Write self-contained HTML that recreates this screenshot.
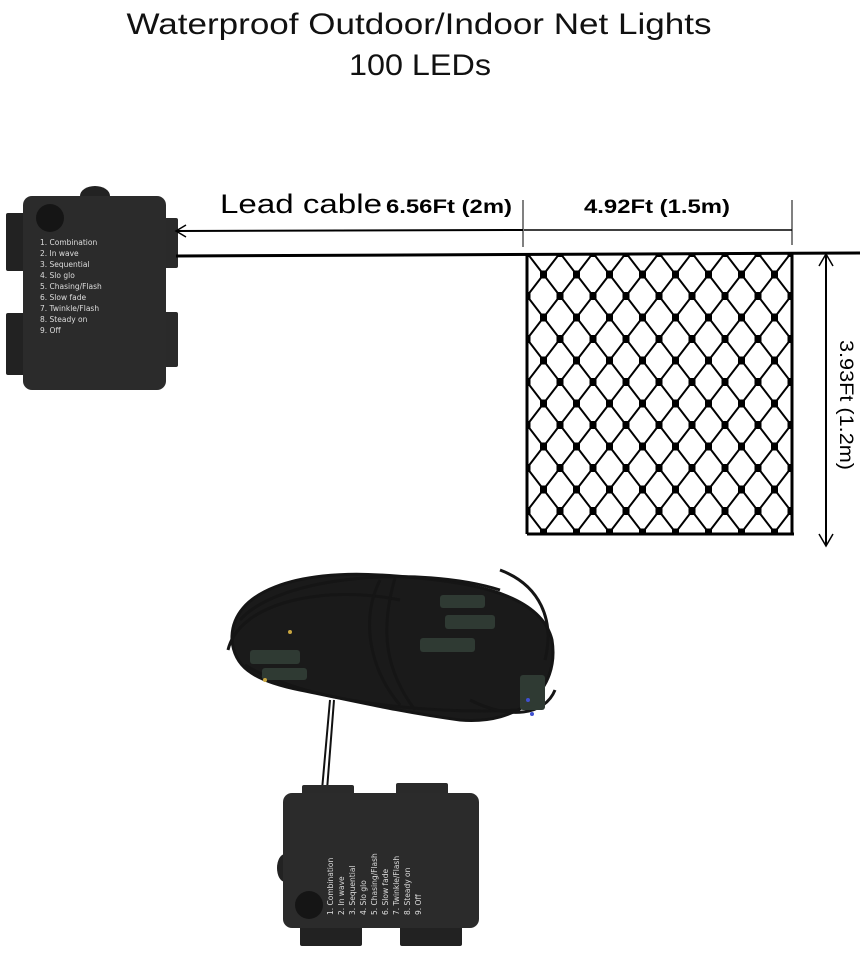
<!DOCTYPE html>
<html><head><meta charset="utf-8"><style>
html,body{margin:0;padding:0;background:#fff;}
svg{display:block;}
</style></head><body>
<svg width="860" height="961" viewBox="0 0 860 961" xmlns="http://www.w3.org/2000/svg">
<defs>
<pattern id="net" x="527" y="253" width="33" height="43" patternUnits="userSpaceOnUse">
<path d="M0,0 L16.5,21.5 L33,0 M0,43 L16.5,21.5 L33,43" stroke="#000" stroke-width="2" fill="none"/>
<rect x="-3.5" y="-4" width="7" height="8" fill="#000"/>
<rect x="29.5" y="-4" width="7" height="8" fill="#000"/>
<rect x="-3.5" y="39" width="7" height="8" fill="#000"/>
<rect x="29.5" y="39" width="7" height="8" fill="#000"/>
<rect x="13" y="17.5" width="7" height="8" fill="#000"/>
</pattern>
</defs>

<text x="419" y="34" font-family="Liberation Sans, sans-serif" font-size="30" text-anchor="middle" textLength="585" lengthAdjust="spacingAndGlyphs" fill="#111">Waterproof Outdoor/Indoor Net Lights</text>
<text x="420" y="75" font-family="Liberation Sans, sans-serif" font-size="30" text-anchor="middle" textLength="142" lengthAdjust="spacingAndGlyphs" fill="#111">100 LEDs</text>

<!-- top box -->
<rect x="6" y="213" width="22" height="58" rx="2" fill="#222"/>
<rect x="6" y="313" width="22" height="62" rx="2" fill="#222"/>
<rect x="160" y="218" width="18" height="50" rx="2" fill="#2a2a2a"/>
<rect x="160" y="312" width="18" height="55" rx="2" fill="#2a2a2a"/>
<ellipse cx="95" cy="196" rx="15" ry="10" fill="#222"/>
<rect x="23" y="196" width="143" height="194" rx="9" fill="#2b2b2b"/>
<circle cx="50" cy="218" r="14" fill="#151515"/>
<g font-family="DejaVu Sans, sans-serif" font-size="7.5" fill="#ddd">
<text x="40" y="245">1. Combination</text>
<text x="40" y="256">2. In wave</text>
<text x="40" y="267">3. Sequential</text>
<text x="40" y="278">4. Slo glo</text>
<text x="40" y="289">5. Chasing/Flash</text>
<text x="40" y="300">6. Slow fade</text>
<text x="40" y="311">7. Twinkle/Flash</text>
<text x="40" y="322">8. Steady on</text>
<text x="40" y="333">9. Off</text>
</g>

<!-- lead cable dimension -->
<text x="220" y="213" font-family="Liberation Sans, sans-serif" font-size="27" textLength="162" lengthAdjust="spacingAndGlyphs" fill="#000">Lead cable</text>
<text x="386" y="213" font-family="Liberation Sans, sans-serif" font-size="19" font-weight="bold" textLength="126" lengthAdjust="spacingAndGlyphs" fill="#000">6.56Ft (2m)</text>
<line x1="176" y1="231" x2="523" y2="230" stroke="#000" stroke-width="2"/>
<path d="M186,225 L176,231 L186,237" stroke="#000" stroke-width="1.5" fill="none"/>
<line x1="523" y1="200" x2="523" y2="247" stroke="#000" stroke-width="1"/>
<line x1="176" y1="256" x2="860" y2="253" stroke="#000" stroke-width="3"/>

<!-- net width dimension -->
<text x="657" y="213" font-family="Liberation Sans, sans-serif" font-size="19" font-weight="bold" text-anchor="middle" textLength="146" lengthAdjust="spacingAndGlyphs" fill="#000">4.92Ft (1.5m)</text>
<line x1="524" y1="230" x2="792" y2="230" stroke="#000" stroke-width="1.5"/>
<line x1="792" y1="200" x2="792" y2="245" stroke="#000" stroke-width="1"/>

<!-- net -->
<rect x="527" y="253" width="265" height="281" fill="url(#net)"/>
<line x1="527" y1="253" x2="527" y2="534" stroke="#000" stroke-width="3"/>
<line x1="792" y1="253" x2="792" y2="534" stroke="#000" stroke-width="3"/>
<line x1="527" y1="534" x2="794" y2="534" stroke="#000" stroke-width="3"/>

<!-- height dimension -->
<line x1="826" y1="255" x2="826" y2="545" stroke="#000" stroke-width="2"/>
<path d="M819,266 L826,254 L833,266 M819,534 L826,546 L833,534" stroke="#000" stroke-width="1.5" fill="none"/>
<text transform="translate(840,405) rotate(90)" font-family="Liberation Sans, sans-serif" font-size="19" text-anchor="middle" textLength="130" lengthAdjust="spacingAndGlyphs" fill="#000">3.93Ft (1.2m)</text>

<!-- bundle -->
<g fill="none" stroke="#151515" stroke-width="3">
<path d="M232,640 C230,590 300,570 380,575 C460,580 540,590 552,640 C560,690 520,725 460,720 C400,712 350,700 300,690 C250,680 234,665 232,640Z" fill="#1a1a1a"/>
<path d="M240,620 C280,575 420,565 500,590"/>
<path d="M245,665 C300,700 420,715 520,710"/>
<path d="M228,650 C240,600 330,585 400,600"/>
<path d="M380,580 C360,620 370,670 400,705"/>
<path d="M395,578 C380,630 385,670 415,710"/>
<path d="M500,570 C540,585 555,620 545,660"/>
<path d="M470,700 C510,720 545,715 555,690"/>
</g>
<g fill="#2f3a33">
<rect x="250" y="650" width="50" height="14" rx="3"/>
<rect x="262" y="668" width="45" height="12" rx="3"/>
<rect x="440" y="595" width="45" height="13" rx="3"/>
<rect x="445" y="615" width="50" height="14" rx="3"/>
<rect x="420" y="638" width="55" height="14" rx="3"/>
<rect x="520" y="675" width="25" height="35" rx="3"/>
</g>
<circle cx="290" cy="632" r="2" fill="#c9a640"/>
<circle cx="265" cy="680" r="2" fill="#c9a640"/>
<circle cx="528" cy="700" r="2" fill="#4050d0"/>
<circle cx="532" cy="714" r="2" fill="#4050d0"/>
<!-- wire -->
<path d="M330,700 L322,790 M334,700 L327,790" stroke="#111" stroke-width="2" fill="none"/>

<!-- bottom box -->
<rect x="302" y="785" width="52" height="20" rx="2" fill="#2a2a2a"/>
<rect x="396" y="783" width="52" height="20" rx="2" fill="#2a2a2a"/>
<rect x="300" y="920" width="62" height="26" rx="2" fill="#222"/>
<rect x="400" y="920" width="62" height="26" rx="2" fill="#222"/>
<ellipse cx="285" cy="868" rx="8" ry="14" fill="#222"/>
<rect x="283" y="793" width="196" height="135" rx="9" fill="#2b2b2b"/>
<circle cx="309" cy="905" r="14" fill="#151515"/>
<g font-family="DejaVu Sans, sans-serif" font-size="7.5" fill="#ddd">
<text transform="translate(333,915) rotate(-90)">1. Combination</text>
<text transform="translate(344,915) rotate(-90)">2. In wave</text>
<text transform="translate(355,915) rotate(-90)">3. Sequential</text>
<text transform="translate(366,915) rotate(-90)">4. Slo glo</text>
<text transform="translate(377,915) rotate(-90)">5. Chasing/Flash</text>
<text transform="translate(388,915) rotate(-90)">6. Slow fade</text>
<text transform="translate(399,915) rotate(-90)">7. Twinkle/Flash</text>
<text transform="translate(410,915) rotate(-90)">8. Steady on</text>
<text transform="translate(421,915) rotate(-90)">9. Off</text>
</g>
</svg>
</body></html>
